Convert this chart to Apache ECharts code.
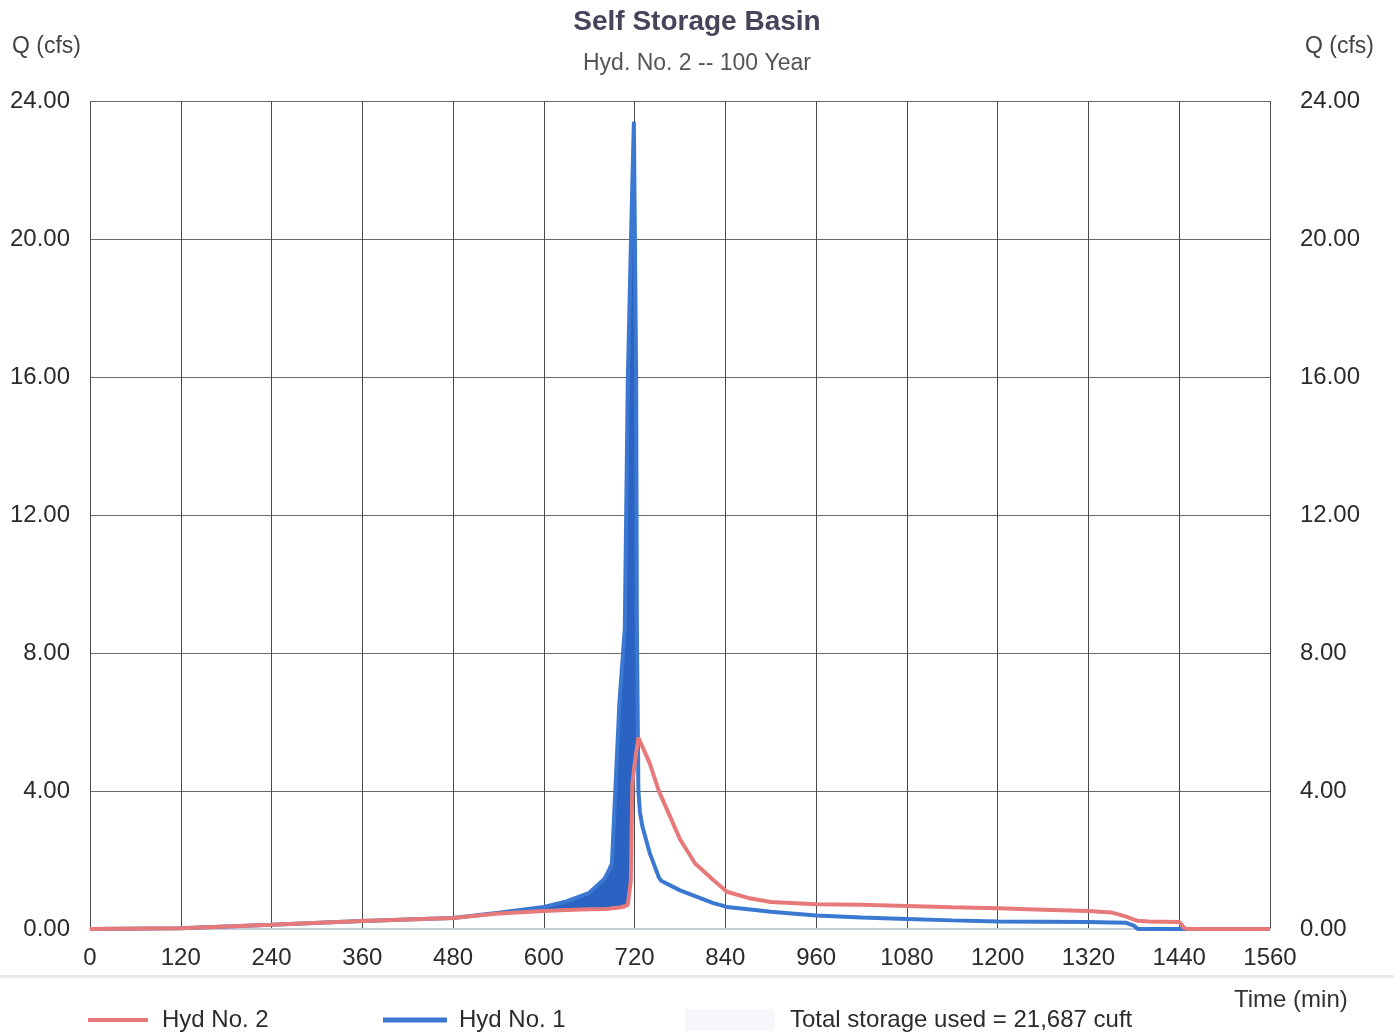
<!DOCTYPE html>
<html>
<head>
<meta charset="utf-8">
<title>Self Storage Basin</title>
<script src="https://cdn.jsdelivr.net/npm/echarts@6/dist/echarts.min.js"></script>
<style>
  html, body { margin: 0; padding: 0; background: #fff; }
  #chart { width: 1394px; height: 1034px; }
</style>
</head>
<body>
<div id="chart"></div>
<script>
// time (min), shared by both hydrographs
const times = [0, 120, 240, 360, 480, 540, 600, 630, 660, 680, 686, 690, 700, 707, 711, 715, 717, 719, 722, 723,
  725, 727, 730, 740, 752, 755, 780, 800, 824, 842, 870, 900, 960, 1020, 1080, 1140, 1200, 1260, 1320, 1350,
  1370, 1380, 1385, 1400, 1440, 1446, 1450, 1500, 1560];

// Hyd No. 1 - inflow (cfs)
const hyd1 = [0, 0.02, 0.12, 0.23, 0.32, 0.47, 0.64, 0.8, 1.05, 1.45, 1.7, 1.9, 6.6, 8.7, 15.9, 19.8, 21.6, 23.4, 16.0, 8.7,
  4.0, 3.4, 3.0, 2.2, 1.5, 1.4, 1.12, 0.95, 0.75, 0.64, 0.57, 0.5, 0.39, 0.33, 0.29, 0.25, 0.22, 0.21, 0.2, 0.19,
  0.18, 0.1, 0, 0, 0, 0, 0, 0, 0];

// Hyd No. 2 - outflow (cfs)
const hyd2 = [0, 0.02, 0.12, 0.23, 0.32, 0.45, 0.52, 0.55, 0.57, 0.58, 0.59, 0.6, 0.62, 0.66, 0.7, 1.4, 4.2, 4.6, 5.1, 5.25,
  5.55, 5.45, 5.3, 4.8, 4.0, 3.85, 2.6, 1.9, 1.42, 1.08, 0.9, 0.78, 0.72, 0.7, 0.67, 0.63, 0.6, 0.56, 0.52, 0.48,
  0.36, 0.27, 0.24, 0.22, 0.2, 0.04, 0, 0, 0];

const xTicks = { min: 0, max: 1560, step: 120 };
const yTicks = { min: 0, max: 24, step: 4 };

const storageLabel = 'Total storage used = 21,687 cuft';
const FONT = '"Liberation Sans", Arial, sans-serif';

const outPts = times.map((t, i) => [t, hyd2[i]]);
const inPts = times.map((t, i) => [t, hyd1[i]]);

var chart = echarts.init(document.getElementById('chart'), null, { renderer: 'canvas' });

// storage = region where inflow is above outflow, drawn via the axes' coord()
function renderStorage(params, api) {
  var upper = [], lower = [];
  for (var i = 0; i < times.length; i++) {
    upper.push(api.coord([times[i], Math.max(hyd1[i], hyd2[i])]));
    lower.push(api.coord([times[i], hyd2[i]]));
  }
  return {
    type: 'polygon',
    shape: { points: upper.concat(lower.reverse()) },
    style: { fill: '#2b63c2', stroke: '#2b63c2', lineWidth: 1 }
  };
}

function yAxisDef(pos) {
  return {
    type: 'value',
    position: pos,
    min: yTicks.min, max: yTicks.max, interval: yTicks.step,
    axisLine: { show: false },
    axisTick: { show: false },
    axisLabel: {
      margin: pos === 'left' ? 20 : 30,
      fontSize: 24, color: '#2b2b2b', fontFamily: FONT,
      formatter: v => v.toFixed(2)
    },
    splitLine: pos === 'left'
      ? { show: true, showMinLine: false, lineStyle: { color: '#6a6a6a', width: 1 } }
      : { show: false }
  };
}

var option = {
  animation: false,
  backgroundColor: '#fff',
  title: [
    { text: 'Self Storage Basin', left: 'center', top: 3,
      textStyle: { fontSize: 28, fontWeight: 'bold', color: '#45445a', fontFamily: FONT } },
    { text: 'Hyd. No. 2 -- 100 Year', left: 'center', top: 47,
      textStyle: { fontSize: 23, fontWeight: 'normal', color: '#555', fontFamily: FONT } }
  ],
  grid: { left: 90, right: 124, top: 101, bottom: 105, containLabel: false },
  xAxis: {
    type: 'value',
    min: xTicks.min, max: xTicks.max, interval: xTicks.step,
    axisLine: { show: true, lineStyle: { color: '#c4ccd6', width: 2 } },
    axisTick: { show: false },
    axisLabel: { margin: 17, fontSize: 24, color: '#2b2b2b', fontFamily: FONT, formatter: v => String(v) },
    splitLine: { show: true, lineStyle: { color: '#4a4a4a', width: 1 } }
  },
  yAxis: [yAxisDef('left'), yAxisDef('right')],
  legend: [
    { data: ['Hyd No. 2'], left: 88, top: 1008, padding: 0, icon: 'rect', itemWidth: 60, itemHeight: 4,
      textStyle: { fontSize: 24, color: '#2b2b2b', fontFamily: FONT, padding: [0, 0, 0, 9] } },
    { data: ['Hyd No. 1'], left: 383, top: 1008, padding: 0, icon: 'rect', itemWidth: 64, itemHeight: 5,
      textStyle: { fontSize: 24, color: '#2b2b2b', fontFamily: FONT, padding: [0, 0, 0, 7] } },
    { data: [{ name: storageLabel, itemStyle: { color: '#f5f7fb' } }], left: 685, top: 1008, padding: 0,
      icon: 'rect', itemWidth: 90, itemHeight: 22,
      textStyle: { fontSize: 24, color: '#2b2b2b', fontFamily: FONT, padding: [0, 0, 0, 10] } }
  ],
  graphic: [
    { type: 'text', left: 12, top: 35,
      style: { text: 'Q (cfs)', fontSize: 23, fill: '#444', fontFamily: FONT } },
    { type: 'text', left: 1305, top: 35,
      style: { text: 'Q (cfs)', fontSize: 23, fill: '#444', fontFamily: FONT } },
    { type: 'text', left: 1234, top: 988,
      style: { text: 'Time (min)', fontSize: 24, fill: '#333', fontFamily: FONT } },
    { type: 'rect', left: 0, top: 975, shape: { width: 1394, height: 3 },
      style: { fill: '#ebebeb' }, silent: true }
  ],
  series: [
    { name: storageLabel, type: 'custom', data: [0], color: '#2b63c2',
      renderItem: renderStorage, silent: true, z: 2 },
    { name: 'Hyd No. 1', type: 'line', data: inPts, symbol: 'none', color: '#3a78d2',
      lineStyle: { width: 4, color: '#3a78d2' }, z: 3 },
    { name: 'Hyd No. 2', type: 'line', data: outPts, symbol: 'none', color: '#e8797b',
      lineStyle: { width: 4, color: '#e8797b' }, z: 4 }
  ]
};

chart.setOption(option);
</script>
</body>
</html>
